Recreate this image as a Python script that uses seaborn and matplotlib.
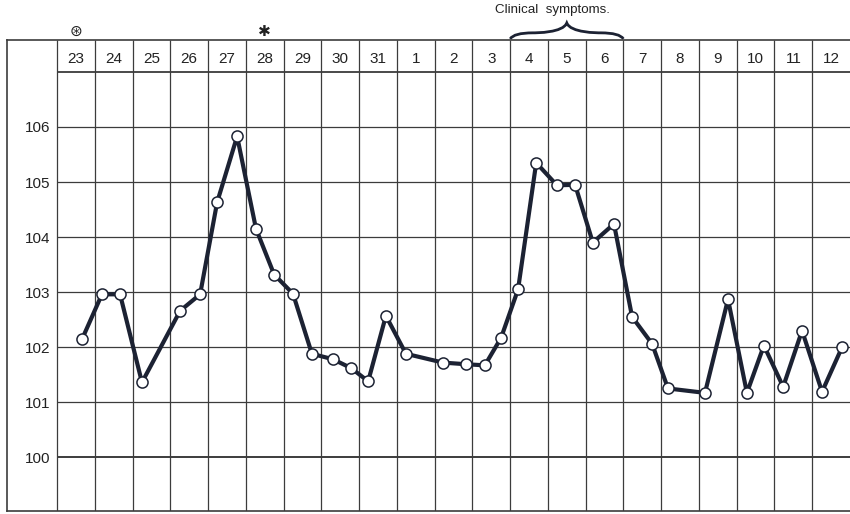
import numpy as np
import matplotlib
matplotlib.use("Agg")
import matplotlib.pyplot as plt
from matplotlib.path import Path
from matplotlib.patches import PathPatch
import seaborn as sns

# dias del registro (cada columna es un dia)
days = [23, 24, 25, 26, 27, 28, 29, 30, 31, 1, 2, 3, 4, 5, 6, 7, 8, 9, 10, 11, 12]

# momento de la lectura (en dias desde el comienzo del dia 23) y temperatura en F
reading_time = [0.66, 1.19, 1.67, 2.25, 3.26, 3.79, 4.24, 4.77, 5.27, 5.75,
                6.25, 6.75, 7.31, 7.79, 8.24, 8.71, 9.24, 10.22, 10.83, 11.33,
                11.76, 12.21, 12.69, 13.24, 13.72, 14.19, 14.75, 15.23, 15.76, 16.18,
                17.16, 17.77, 18.27, 18.72, 19.23, 19.73, 20.26, 20.79]
temperature = [102.14, 102.96, 102.96, 101.36, 102.66, 102.96, 104.63, 105.83, 104.15, 103.32,
               102.97, 101.88, 101.78, 101.62, 101.38, 102.57, 101.88, 101.72, 101.69, 101.67,
               102.17, 103.05, 105.35, 104.94, 104.95, 103.90, 104.24, 102.55, 102.06, 101.25,
               101.17, 102.87, 101.17, 102.03, 101.28, 102.30, 101.19, 102.00]

temp_ticks = [100, 101, 102, 103, 104, 105, 106]

# marcas sobre la cabecera: dia 23 y dia 28
marks = {0: "\u229b", 5: "\u2731"}

# sintomas clinicos: columnas de los dias 4 a 6
symptom_start = days.index(4)
symptom_end = days.index(6) + 1
symptom_label = "Clinical  symptoms."

sns.set_style("white")
plt.rcParams['font.family'] = ['Liberation Sans', 'DejaVu Sans']

ink = "#1c2233"
grid = "#3c3c3c"

fig = plt.figure(figsize=(8.5, 5.14), dpi=100)
ax = fig.add_axes([7 / 850, 3 / 514, 843 / 850, 471 / 514])

n = len(days)
ymin, ymax = 99.024, 107.58
header = 107
ax.set_xlim(-1.324, n)
ax.set_ylim(ymin, ymax)

# cuadricula
ax.vlines(np.arange(0, n), ymin, ymax, color=grid, lw=0.9, zorder=1)
ax.hlines(temp_ticks[1:], 0, n, color=grid, lw=0.9, zorder=1)
ax.hlines([100], 0, n, color=grid, lw=1.4, zorder=1)
ax.hlines([header], 0, n, color=grid, lw=1.3, zorder=1)

# curva de temperatura
sns.lineplot(x=reading_time, y=temperature, ax=ax, color=ink, lw=3.0,
             marker="o", markersize=8, markerfacecolor="white",
             markeredgecolor=ink, markeredgewidth=1.1, zorder=3)

# cabecera con los dias
for i, d in enumerate(days):
    ax.text(i + 0.5, header + 0.24, str(d), ha="center", va="center",
            fontsize=11, color="#222222")

for i, m in marks.items():
    ax.text(i + 0.5, ymax + 0.16, m, ha="center", va="center",
            fontsize=11, color="#222222", family=['DejaVu Sans'], clip_on=False)

# llave de sintomas clinicos
mid = (symptom_start + symptom_end) / 2
y0, y1, y2 = ymax + 0.02, ymax + 0.13, ymax + 0.31
verts = [(symptom_start, y0), (symptom_start + 0.1, y1), (symptom_start + 0.6, y1),
         (mid - 0.8, y1), (mid - 0.1, y1), (mid, y2),
         (mid + 0.1, y1), (mid + 0.8, y1), (symptom_end - 0.6, y1),
         (symptom_end - 0.1, y1), (symptom_end, y0)]
codes = [Path.MOVETO, Path.CURVE3, Path.CURVE3, Path.CURVE4, Path.CURVE4, Path.CURVE4,
         Path.CURVE4, Path.CURVE4, Path.CURVE4, Path.CURVE3, Path.CURVE3]
ax.add_patch(PathPatch(Path(verts, codes), fc="none", ec=ink, lw=2.0, clip_on=False))
ax.text(mid - 0.38, ymax + 0.54, symptom_label, ha="center", va="center",
        fontsize=9.6, color="#222222", clip_on=False)

# eje de temperaturas dentro del marco
ax.set_yticks(temp_ticks)
ax.set_yticklabels([str(t) for t in temp_ticks], fontsize=11, color="#222222")
ax.set_xticks([])
ax.tick_params(axis="y", length=0, pad=-31)
ax.set_xlabel("")
ax.set_ylabel("")

for side in ["left", "top", "bottom"]:
    ax.spines[side].set_color(grid)
    ax.spines[side].set_linewidth(1.2)
ax.spines["right"].set_visible(False)

fig.savefig("out.png", dpi=100, facecolor="white")
